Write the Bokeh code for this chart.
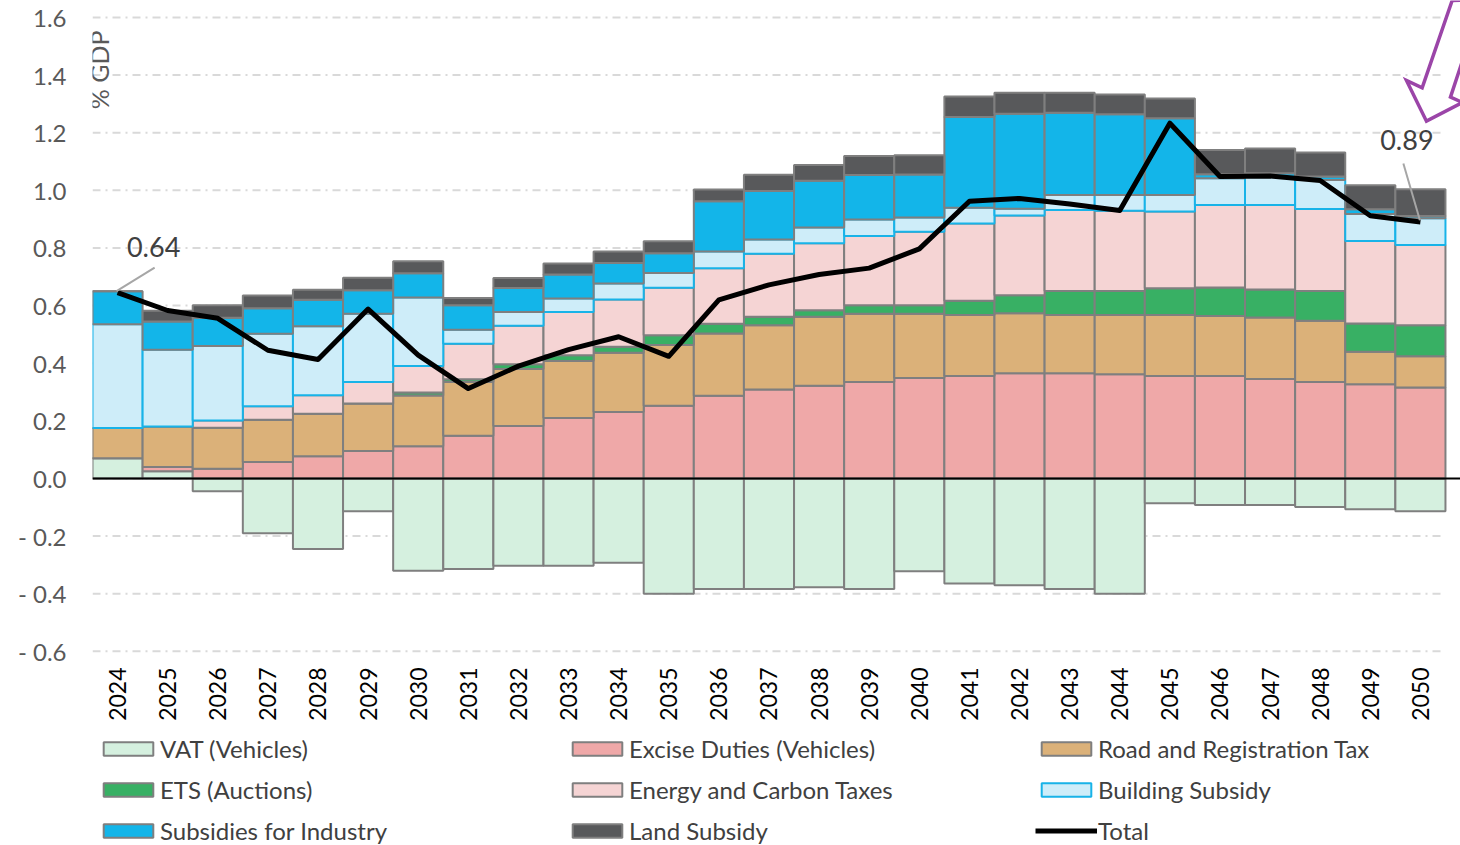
import numpy as np
from bokeh.plotting import figure
from bokeh.layouts import column
from bokeh.models import Range1d, FixedTicker, Span, Label, Legend, LegendItem
from bokeh.embed import file_html
from bokeh.resources import INLINE

years = list(range(2024, 2051))

vat = [0.07, 0.025, -0.044, -0.19, -0.245, -0.114, -0.32, -0.314, -0.303, -0.303, -0.293, -0.40, -0.384,
       -0.384, -0.378, -0.384, -0.322, -0.365, -0.371, -0.384, -0.40, -0.086, -0.092, -0.092, -0.099, -0.107, -0.114]
excise = [0.0, 0.015, 0.034, 0.057, 0.077, 0.095, 0.112, 0.148, 0.182, 0.21, 0.231, 0.252, 0.287, 0.309,
          0.322, 0.335, 0.349, 0.356, 0.365, 0.365, 0.362, 0.356, 0.356, 0.345, 0.335, 0.327, 0.316]
road = [0.105, 0.14, 0.142, 0.147, 0.148, 0.165, 0.176, 0.187, 0.198, 0.198, 0.205, 0.211, 0.216, 0.223,
        0.239, 0.237, 0.223, 0.211, 0.208, 0.202, 0.205, 0.211, 0.208, 0.214, 0.212, 0.113, 0.108]
ets = [0.0, 0.0, 0.0, 0.0, 0.0, 0.0, 0.01, 0.009, 0.016, 0.02, 0.021, 0.034, 0.034, 0.029,
       0.023, 0.029, 0.029, 0.05, 0.063, 0.084, 0.084, 0.093, 0.099, 0.097, 0.104, 0.098, 0.108]
energy = [0.0, 0.0, 0.025, 0.047, 0.064, 0.075, 0.092, 0.124, 0.134, 0.15, 0.164, 0.165, 0.193, 0.219,
          0.232, 0.241, 0.255, 0.268, 0.277, 0.281, 0.278, 0.267, 0.286, 0.293, 0.284, 0.286, 0.278]
building = [0.36, 0.267, 0.259, 0.251, 0.239, 0.237, 0.238, 0.048, 0.048, 0.047, 0.056, 0.051, 0.058, 0.049,
            0.055, 0.057, 0.05, 0.055, 0.023, 0.052, 0.055, 0.057, 0.093, 0.097, 0.101, 0.094, 0.093]
industry = [0.115, 0.098, 0.098, 0.089, 0.092, 0.081, 0.084, 0.085, 0.083, 0.083, 0.071, 0.069, 0.174, 0.169,
            0.162, 0.154, 0.149, 0.315, 0.33, 0.285, 0.28, 0.266, 0.014, 0.013, 0.012, 0.016, 0.008]
land = [0.0, 0.037, 0.043, 0.044, 0.035, 0.044, 0.042, 0.025, 0.035, 0.038, 0.04, 0.041, 0.041, 0.056,
        0.055, 0.066, 0.067, 0.071, 0.073, 0.07, 0.069, 0.069, 0.084, 0.086, 0.083, 0.084, 0.093]
total = [0.645, 0.583, 0.556, 0.445, 0.413, 0.588, 0.428, 0.312, 0.39, 0.447, 0.492, 0.424, 0.62, 0.672,
         0.708, 0.73, 0.797, 0.962, 0.972, 0.953, 0.93, 1.233, 1.048, 1.05, 1.034, 0.912, 0.89]

series_names = ["VAT (Vehicles)", "Excise Duties (Vehicles)", "Road and Registration Tax",
                "ETS (Auctions)", "Energy and Carbon Taxes", "Building Subsidy",
                "Subsidies for Industry", "Land Subsidy"]
series_values = [vat, excise, road, ets, energy, building, industry, land]
fill_colors = ["#D5F0DF", "#EFA8A8", "#DBB179", "#38B064", "#F5D4D4", "#CEEDF9", "#13B5E9", "#58595B"]
line_colors = ["#7F7F7F", "#7F7F7F", "#7F7F7F", "#7F7F7F", "#7F7F7F", "#18B3E8", "#7F7F7F", "#7F7F7F"]

y_ticks = [round(-0.6 + 0.2 * i, 1) for i in range(12)]
FONT = "Lato"

X0, X1 = 2023.5, 2050.5
p = figure(frame_width=1368, frame_height=656,
           x_range=Range1d(X0, 2050.8), y_range=Range1d(-0.618, 1.659),
           output_backend="svg", toolbar_location=None,
           min_border_left=92, min_border_right=0, min_border_top=0, min_border_bottom=70)
p.outline_line_color = None
p.background_fill_color = "white"

# grid (drawn only across the bar area)
p.xgrid.grid_line_color = None
p.ygrid.grid_line_color = None
p.segment(x0=[X0] * len(y_ticks), x1=[X1] * len(y_ticks), y0=y_ticks, y1=y_ticks,
          line_color="#D9D9D9", line_width=2, line_dash="8 5 2 5")

# axes
p.yaxis.ticker = FixedTicker(ticks=y_ticks)
p.yaxis.major_label_overrides = {t: (f"{t:.1f}" if t >= 0 else f"- {abs(t):.1f}") for t in y_ticks}
p.yaxis.axis_line_color = None
p.yaxis.major_tick_line_color = None
p.yaxis.minor_tick_line_color = None
p.yaxis.major_tick_out = 0
p.yaxis.major_label_standoff = 26
p.yaxis.major_label_text_font = FONT
p.yaxis.major_label_text_font_size = "24px"
p.yaxis.major_label_text_color = "#595959"

p.xaxis.ticker = FixedTicker(ticks=years)
p.xaxis.major_label_overrides = {y: str(y) for y in years}
p.xaxis.axis_line_color = None
p.xaxis.major_tick_line_color = None
p.xaxis.minor_tick_line_color = None
p.xaxis.major_tick_out = 0
p.xaxis.major_label_standoff = 11
p.xaxis.major_label_orientation = np.pi / 2
p.xaxis.major_label_text_font = FONT
p.xaxis.major_label_text_font_size = "23px"
p.xaxis.major_label_text_color = "#000000"

# legend figure (below the chart); its proxy renderers are hidden
lg = figure(width=1460, height=119, x_range=Range1d(X0, 2050.8), y_range=Range1d(10, 11),
            output_backend="svg", toolbar_location=None,
            x_axis_location=None, y_axis_location=None,
            min_border_left=0, min_border_right=0, min_border_top=0, min_border_bottom=0)
lg.outline_line_color = None
lg.xgrid.grid_line_color = None
lg.ygrid.grid_line_color = None

# stacked bars (positive upward, negative downward)
pos = np.zeros(len(years))
neg = np.zeros(len(years))
items = []
for name, vals, fc, lc in zip(series_names, series_values, fill_colors, line_colors):
    v = np.array(vals, dtype=float)
    bottom = np.where(v >= 0, pos, neg + v)
    top = np.where(v >= 0, pos + v, neg)
    pos = np.where(v >= 0, pos + v, pos)
    neg = np.where(v < 0, neg + v, neg)
    p.vbar(x=years, bottom=bottom, top=top, width=1.0,
           fill_color=fc, line_color=lc, line_width=2)
    proxy = lg.vbar(x=years, bottom=bottom, top=top, width=1.0,
                    fill_color=fc, line_color=lc, line_width=2)
    proxy.visible = False
    items.append(LegendItem(label=name, renderers=[proxy]))

p.add_layout(Span(location=0, dimension="width", line_color="black", line_width=2))

p.line(years, total, line_color="black", line_width=5, line_join="round")
tproxy = lg.line(x=years, y=total, line_color="black", line_width=5)
tproxy.visible = False
items.append(LegendItem(label="Total", renderers=[tproxy]))

# callouts
p.segment(x0=[2023.98, 2049.99], y0=[0.650, 0.896], x1=[2024.74, 2049.66], y1=[0.732, 1.093],
          line_color="#A6A6A6", line_width=2)
p.add_layout(Label(x=2024.72, y=0.802, text="0.64", text_align="center", text_baseline="middle",
                   text_font=FONT, text_font_size="27px", text_color="#404040"))
p.add_layout(Label(x=2049.73, y=1.174, text="0.89", text_align="center", text_baseline="middle",
                   text_font=FONT, text_font_size="27px", text_color="#404040"))

# y axis title inside the plot
p.add_layout(Label(x=2023.62, y=1.555, text="% GDP", angle=np.pi / 2, text_align="right",
                   text_baseline="middle", text_font=FONT, text_font_size="25px", text_color="#595959"))

# purple hollow arrow (partially off-chart)
p.patch(x=[2050.634, 2050.035, 2049.722, 2050.121, 2050.84, 2050.60, 2051.24],
        y=[1.659, 1.356, 1.3815, 1.2402, 1.305, 1.3235, 1.661],
        fill_color=None, line_color="#9B45A8", line_width=3.5, line_join="miter")

legend = Legend(items=items, orientation="horizontal", ncols=3, location=(5, 0),
                glyph_width=62, glyph_height=17, label_height=17, label_width=394,
                label_standoff=1, spacing=12, padding=0, margin=0, click_policy="none",
                inactive_fill_alpha=0,
                label_text_font=FONT, label_text_font_size="24px", label_text_color="#404040",
                border_line_color=None, background_fill_alpha=0)
lg.add_layout(legend)

layout = column(p, lg, spacing=0)
open("out.html", "w").write(file_html(layout, INLINE))
